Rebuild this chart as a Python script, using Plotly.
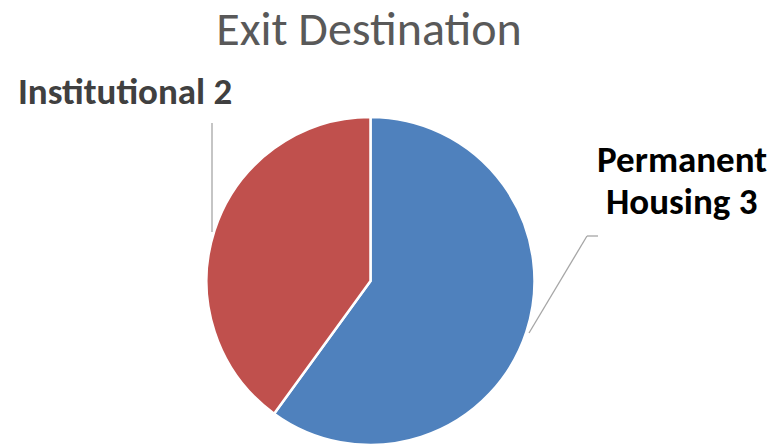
import plotly.graph_objects as go

labels = ["Permanent Housing", "Institutional"]
values = [3, 2]
colors = ["#4F81BD", "#C0504D"]
title_text = "Exit Destination"

W, H = 772, 445
FONT = "Carlito, Calibri, Lato, sans-serif"


def px(x):
    return x / W


def py(y):
    return 1 - y / H


cx, r = 370.5, 165
top = 117
fig = go.Figure(go.Pie(
    labels=labels, values=values, sort=False, direction="clockwise", rotation=0,
    marker=dict(colors=colors, line=dict(color="white", width=2.5)),
    textinfo="none", hoverinfo="label+value",
    domain=dict(x=[px(cx - r), px(cx + r)], y=[0, py(top)]),
    showlegend=False,
))

fig.add_annotation(text=f"<b>{labels[1]} {values[1]}</b>", x=px(125), y=py(91),
                   xref="paper", yref="paper", showarrow=False, xanchor="center", yanchor="middle",
                   font=dict(family=FONT, size=37, color="#404040"))
fig.add_annotation(text="<b>Permanent</b>", x=px(682), y=py(159),
                   xref="paper", yref="paper", showarrow=False, xanchor="center", yanchor="middle",
                   font=dict(family=FONT, size=37, color="#000000"))
fig.add_annotation(text=f"<b>Housing {values[0]}</b>", x=px(681), y=py(201),
                   xref="paper", yref="paper", showarrow=False, xanchor="center", yanchor="middle",
                   font=dict(family=FONT, size=37, color="#000000"))

line_col = "#A6A6A6"
for (x0, y0, x1, y1) in [(212, 123, 212, 232), (598, 236, 587, 236), (587, 236, 529, 333)]:
    fig.add_shape(type="line", xref="paper", yref="paper",
                  x0=px(x0), y0=py(y0), x1=px(x1), y1=py(y1),
                  line=dict(color=line_col, width=1.3))

fig.update_layout(
    width=W, height=H, margin=dict(l=0, r=0, t=0, b=0),
    paper_bgcolor="white", plot_bgcolor="white",
    title=dict(text=title_text, x=px(369), xanchor="center", y=py(28), yanchor="middle",
               font=dict(family=FONT, size=48, color="#595959")),
)

fig.write_html("out.html", config={"displayModeBar": False},
               post_script="document.body.style.margin='0';document.body.style.overflow='hidden';")
